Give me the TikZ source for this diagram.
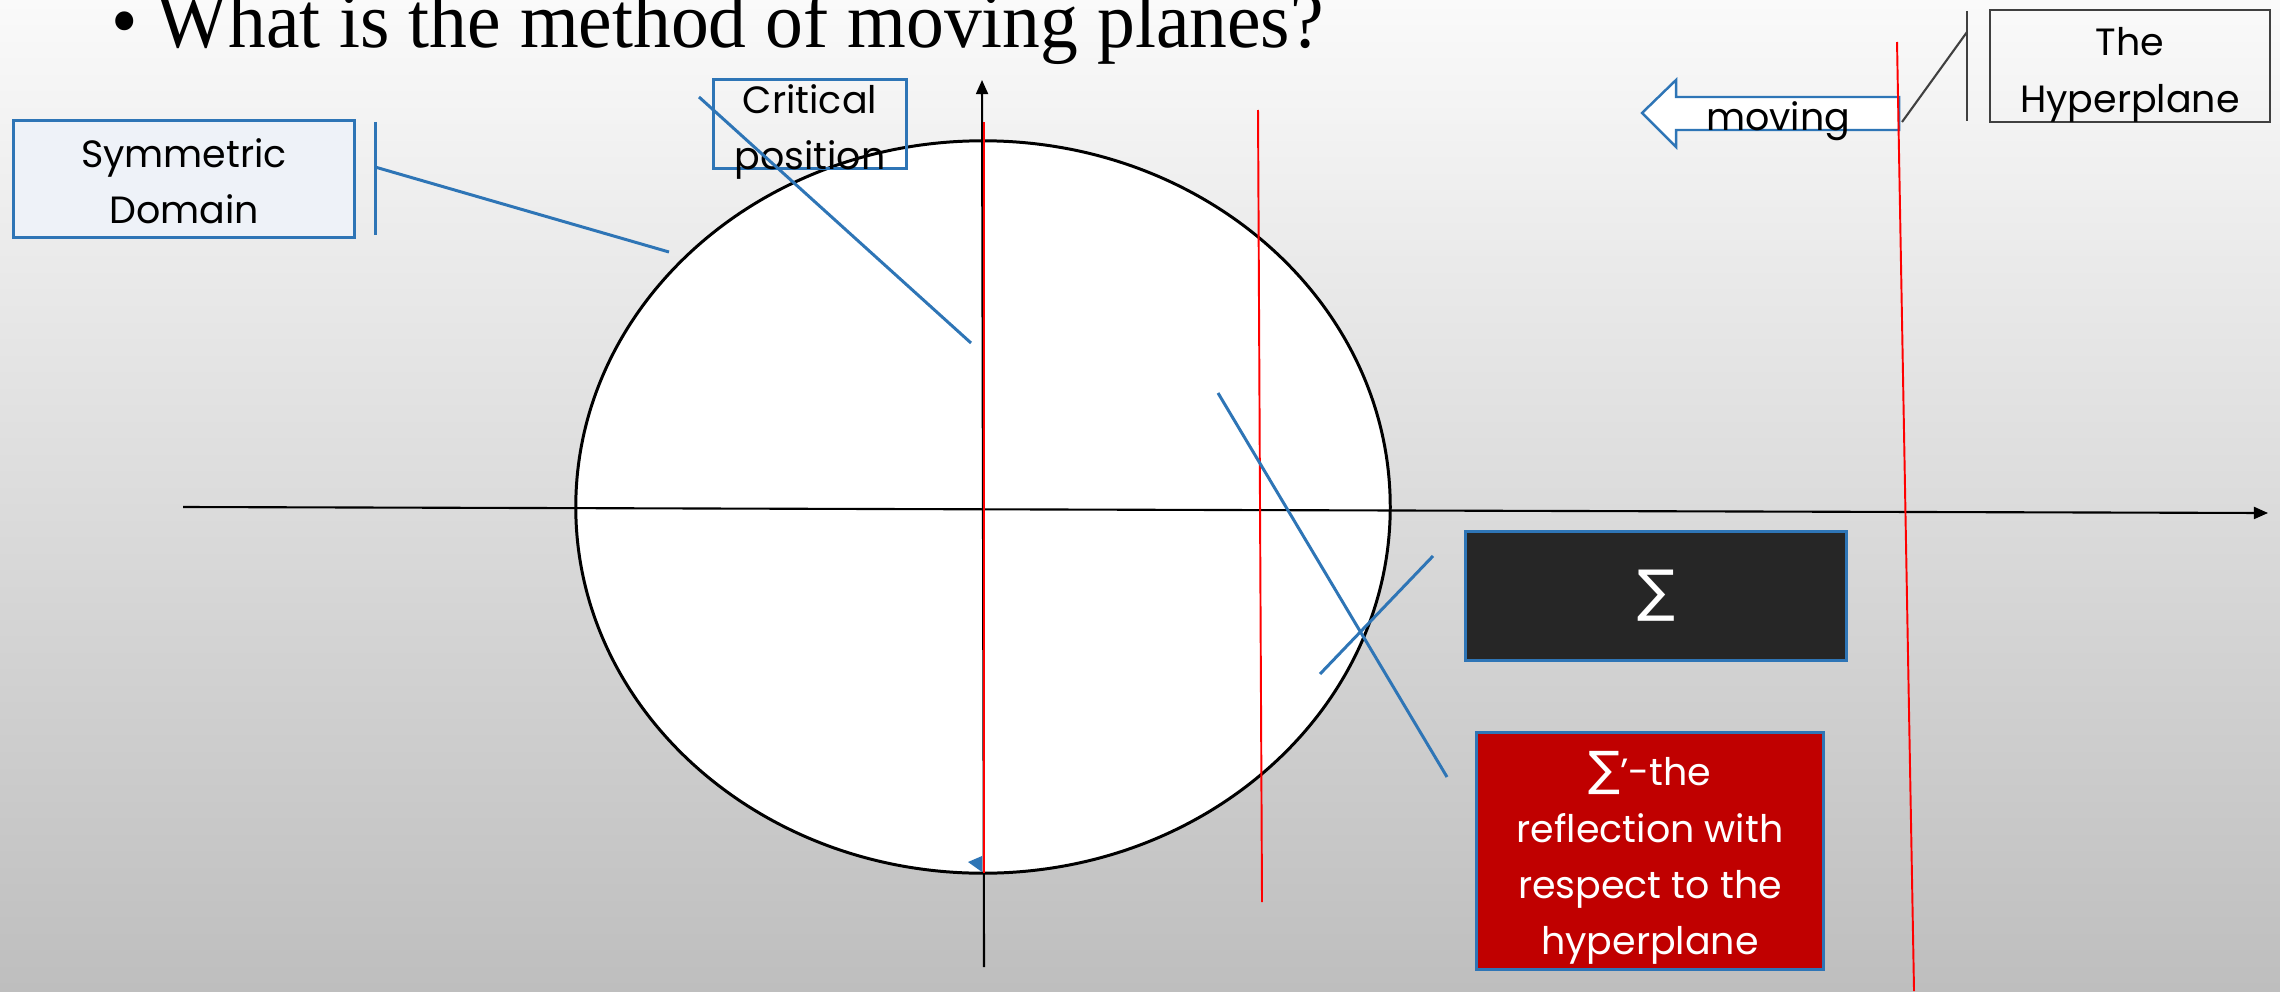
\documentclass[tikz,border=0pt]{standalone}
\usepackage{fontspec}
\setmainfont{Liberation Serif}
\newfontfamily\titlefont[FakeStretch=0.955]{Liberation Serif}
\newfontfamily\slidefont{Poppins}
\newfontfamily\sumfont{DejaVu Sans}
\usepackage{tikz}
\usetikzlibrary{arrows.meta,shapes.geometric}
\definecolor{boxblue}{HTML}{2E75B6}
\definecolor{hypgray}{HTML}{404040}
\definecolor{planered}{HTML}{FF0000}
\definecolor{sigmadark}{HTML}{262626}
\definecolor{reflectred}{HTML}{C00000}
\definecolor{domainfill}{HTML}{EEF2F8}
\definecolor{bgtop}{HTML}{FAFAFA}
\definecolor{bgbottom}{HTML}{BEBEBE}
\tikzset{slidetext/.style={font=\slidefont\fontsize{10.8}{16}\selectfont,
 align=center,inner sep=0pt,text=black},
 bluebox/.style={slidetext,rectangle,draw=boxblue,line width=.85pt},
 hypbox/.style={slidetext,rectangle,draw=hypgray,line width=.6pt},
 titletext/.style={font=\titlefont\fontsize{22.5}{27}\selectfont,inner sep=0pt},
 axis/.style={draw=black,line width=.6pt,-{Triangle[length=4pt,width=3.4pt]}},
 plane/.style={draw=planered,line width=.55pt},
 callout/.style={draw=boxblue,line width=.85pt},
 hypcallout/.style={draw=hypgray,line width=.6pt}}

\begin{document}
\begin{tikzpicture}[x=.01cm,y=-.01cm]
 \useasboundingbox (0,0) rectangle (2280,991);
 \shade[top color=bgtop,bottom color=bgbottom] (0,0) rectangle (2280,991);
 \clip (0,0) rectangle (2280,991);
 \node[titletext,anchor=base west] (title) at (111,48)
  {\textbullet\ What is the method of moving planes?};
 \node[draw=black,line width=.85pt,fill=white,ellipse,inner sep=0pt,
  minimum width=8.14cm,minimum height=7.32cm] (domain) at (983,507) {};
 \draw[axis] (183,507) -- (2268,513);
 \draw[axis] (984,967) -- (982,80);
 \fill[boxblue] (968,862) -- (982,856) -- (982,872) -- cycle;
 \draw[boxblue,line width=.7pt,fill=white] (1899,97) -- (1676,97) -- (1676,80)
  -- (1642,113) -- (1676,147) -- (1676,130) -- (1899,130) -- cycle;
 \node[slidetext,anchor=base] (moving) at (1778,130) {moving};
 \draw[plane] (984,122) -- (984,873);
 \draw[plane] (1258,110) -- (1262,902);
 \draw[plane] (1897,42) -- (1914,991);
 \node[bluebox,fill=domainfill,minimum width=3.40cm,minimum height=1.16cm]
  (symm) at (184,179) {};
 \node[slidetext] (symmtext) at ([yshift=-.02cm]symm.center) {Symmetric\\Domain};
 \node[bluebox,minimum width=1.92cm,minimum height=.88cm] (crit) at (810,124) {};
 \node[slidetext] (crittext) at ([yshift=-.08cm]crit.center) {Critical\\position};
 \node[hypbox,minimum width=2.80cm,minimum height=1.12cm] (hyp) at (2130,66) {};
 \node[slidetext] (hyptext) at ([yshift=-.09cm]hyp.center) {The\\Hyperplane};
 \node[bluebox,fill=sigmadark,text=white,minimum width=3.81cm,minimum height=1.29cm]
  (sigma) at (1656,596) {\sumfont\fontsize{16}{18}\selectfont ∑};
 \node[bluebox,fill=reflectred,minimum width=3.47cm,minimum height=2.36cm]
  (refl) at (1650,851) {};
 \node[slidetext,text=white] (refltext) at ([yshift=-.07cm]refl.center)
  {{\sumfont\fontsize{13.5}{16}\selectfont ∑}’-the\\reflection with\\respect to the\\hyperplane};
 \coordinate (symmbar) at (375,167);
 \coordinate (symmtip) at (669,252);
 \draw[callout] (375,122) -- (375,235);
 \draw[callout] (symmbar) -- (symmtip);
 \coordinate (critstart) at (699,97);
 \coordinate (crittip) at (971,343);
 \draw[callout] (critstart) -- (crittip);
 \coordinate (sigmastart) at (1433,556);
 \coordinate (sigmatip) at (1320,674);
 \draw[callout] (sigmastart) -- (sigmatip);
 \coordinate (reflstart) at (1218,393);
 \coordinate (refltip) at (1447,777);
 \draw[callout] (reflstart) -- (refltip);
 \coordinate (hypbar) at (1967,32);
 \coordinate (hyptip) at (1902,122);
 \draw[hypcallout] (1967,11) -- (1967,121);
 \draw[hypcallout] (hypbar) -- (hyptip);
\end{tikzpicture}
\end{document}
